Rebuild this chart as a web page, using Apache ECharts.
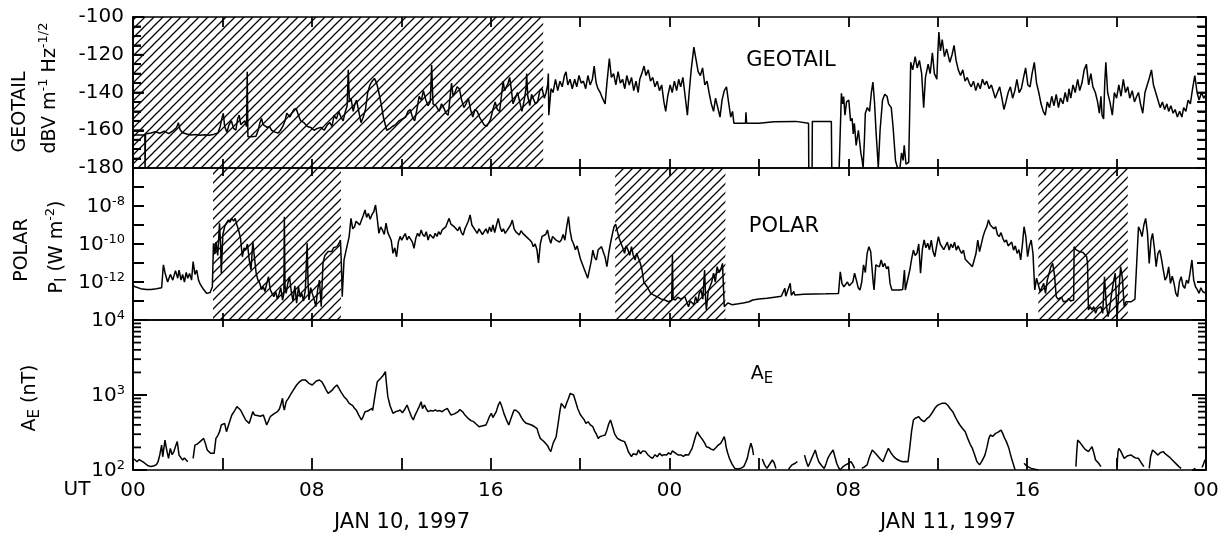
<!DOCTYPE html>
<html><head><meta charset="utf-8">
<script src="https://cdn.jsdelivr.net/npm/echarts@6/dist/echarts.min.js"></script>
<style>html,body{margin:0;padding:0;background:#fff}#c{width:1222px;height:536px}</style>
</head><body><div id="c"></div>
<script>
const FONT = 'DejaVu Sans';

// ---- data (hours from 00 UT Jan 10, 1997) ----
const geotailDb = [
[0,-162.5],[0.53,-162.5],[0.54,-180],[0.56,-162],[0.8,-161.5],[1.0,-160.8],[1.2,-161.6],[1.4,-160.5],[1.6,-161.8],[1.8,-160.2],[1.95,-158.5],[2.03,-156],[2.1,-159.5],[2.2,-161.2],[2.4,-162],[2.6,-162.5],[2.8,-162.3],[3.0,-162.6],[3.2,-162.4],[3.4,-162.6],[3.6,-162.2],[3.8,-161.5],[3.9,-158],[3.97,-154],[4.04,-151],[4.1,-158],[4.2,-161],[4.3,-157],[4.4,-155],[4.5,-159],[4.6,-160],[4.68,-154],[4.75,-152],[4.82,-157],[4.9,-158],[5.0,-155],[5.08,-158],[5.11,-129],[5.14,-163.4],[5.3,-163.4],[5.5,-163.2],[5.6,-160],[5.68,-156],[5.75,-153.7],[5.82,-157],[5.9,-156],[6.0,-158.5],[6.1,-158],[6.2,-160],[6.35,-161],[6.5,-161.5],[6.6,-160],[6.7,-158],[6.8,-155],[6.88,-151],[6.95,-150],[7.02,-153],[7.1,-151],[7.2,-149],[7.3,-148.5],[7.4,-152],[7.5,-155],[7.65,-156],[7.8,-158],[7.95,-158.5],[8.1,-160],[8.25,-159],[8.4,-158.5],[8.55,-160],[8.7,-157],[8.81,-156],[8.9,-158],[9.0,-152],[9.1,-154],[9.2,-150],[9.3,-153],[9.4,-155],[9.5,-150],[9.58,-147],[9.63,-128],[9.68,-145],[9.75,-143],[9.85,-150],[9.93,-146],[10.0,-144],[10.1,-150],[10.2,-156],[10.3,-153],[10.4,-149],[10.5,-140],[10.6,-136],[10.7,-134],[10.8,-132.5],[10.9,-135],[11.0,-140],[11.1,-146],[11.2,-153],[11.35,-160],[11.5,-159],[11.6,-158],[11.75,-157],[11.9,-155],[12.05,-154],[12.2,-153],[12.3,-150],[12.4,-149],[12.5,-153],[12.6,-155],[12.7,-149],[12.8,-142],[12.9,-144],[12.99,-139],[13.1,-144],[13.2,-147],[13.3,-145],[13.36,-125.4],[13.42,-146],[13.55,-147],[13.7,-150],[13.8,-146],[13.9,-148],[14.0,-151],[14.1,-152],[14.18,-143],[14.25,-135],[14.32,-142],[14.4,-140],[14.5,-137],[14.6,-138],[14.7,-144],[14.8,-148],[14.9,-146],[15.0,-143],[15.1,-149],[15.2,-153],[15.3,-149],[15.4,-150],[15.5,-153],[15.6,-155],[15.7,-157],[15.82,-158],[15.92,-156],[16.0,-154],[16.1,-149],[16.2,-145],[16.3,-149],[16.4,-150],[16.48,-142],[16.56,-134],[16.62,-139],[16.7,-140],[16.78,-135],[16.85,-132],[16.92,-138],[17.0,-146],[17.1,-143],[17.2,-140],[17.3,-145],[17.4,-150],[17.5,-144],[17.58,-138],[17.61,-130],[17.66,-142],[17.75,-147],[17.83,-141],[17.9,-140],[18.0,-146],[18.1,-145],[18.2,-139],[18.3,-138],[18.4,-143],[18.48,-140],[18.55,-136],[18.58,-130],
[18.6,-152],[18.7,-138],[18.79,-140],[18.9,-133],[19.0,-139],[19.1,-134],[19.2,-137],[19.3,-131],[19.37,-129],[19.45,-136],[19.55,-133],[19.65,-138],[19.76,-133],[19.85,-137],[19.95,-131],[20.05,-135],[20.15,-134],[20.25,-138],[20.35,-131],[20.45,-136],[20.55,-133],[20.63,-126],[20.72,-135],[20.8,-138],[20.9,-140],[21.0,-143],[21.12,-146],[21.2,-135],[21.31,-122],[21.4,-132],[21.5,-130],[21.6,-136],[21.7,-129],[21.8,-135],[21.9,-133],[22.0,-138],[22.09,-131],[22.2,-136],[22.3,-132],[22.4,-139],[22.5,-134],[22.6,-140],[22.67,-133],[22.76,-130],[22.86,-126],[22.95,-131],[23.05,-128],[23.15,-134],[23.25,-132],[23.35,-137],[23.45,-134],[23.55,-139],[23.65,-136],[23.75,-145],[23.83,-150],[23.92,-142],[24.03,-136],[24.12,-140],[24.22,-134],[24.32,-139],[24.41,-133],[24.5,-137],[24.6,-132],[24.7,-142],[24.8,-152],[24.88,-140],[24.97,-128],[25.09,-116],[25.18,-122],[25.28,-129],[25.38,-131],[25.48,-127],[25.58,-136],[25.68,-134],[25.77,-140],[25.87,-146],[25.97,-150],[26.06,-143],[26.16,-148],[26.26,-153],[26.35,-144],[26.45,-139],[26.55,-137],[26.64,-145],[26.74,-153],[26.82,-150],[26.88,-156.3],[27.0,-156.3],[27.4,-156.3],[27.42,-150.5],[27.45,-156.3],[28.0,-156.3],[28.68,-155.5],[28.75,-156.3],[29.65,-155.3],[29.7,-156.3],[30.22,-156.3],[30.23,-180],[30.38,-180],[30.39,-155.4],[31.24,-155.4],[31.26,-180],[31.59,-180],
[31.69,-140.4],[31.75,-146],[31.79,-142.2],[31.85,-152],[31.92,-145],[32.02,-144],[32.1,-155],[32.17,-153.7],[32.22,-162],[32.27,-156.3],[32.35,-168],[32.45,-160],[32.56,-172],[32.62,-176],[32.66,-180],[32.72,-165],[32.76,-151],[32.85,-148],[32.95,-150],[33.03,-140],[33.1,-134.5],[33.17,-145],[33.24,-161],[33.3,-172],[33.34,-180],[33.42,-160],[33.53,-144],[33.63,-141],[33.73,-142],[33.8,-146],[33.92,-148],[34.0,-158],[34.11,-176],[34.2,-180],[34.31,-180],[34.38,-172],[34.45,-176],[34.5,-168],[34.58,-178],[34.7,-177],[34.79,-124],[34.88,-128],[34.99,-121],[35.08,-127],[35.18,-123],[35.28,-130],[35.37,-148],[35.45,-132],[35.57,-125],[35.66,-130],[35.76,-119],[35.85,-130],[35.96,-133],[36.0,-120],[36.05,-108],[36.12,-118],[36.2,-112],[36.3,-121],[36.4,-117],[36.54,-124],[36.64,-120],[36.73,-115],[36.82,-123],[36.92,-128],[37.02,-131],[37.12,-128],[37.22,-134],[37.32,-132],[37.41,-135],[37.5,-137],[37.6,-134],[37.7,-139],[37.8,-135],[37.9,-138],[38.0,-133],[38.1,-136],[38.19,-134],[38.3,-138],[38.4,-136],[38.5,-140],[38.57,-143],[38.67,-140],[38.77,-137],[38.87,-143],[38.96,-149],[39.05,-145],[39.15,-140],[39.25,-137],[39.35,-143],[39.45,-139],[39.54,-133],[39.64,-140],[39.74,-138],[39.84,-132],[39.93,-127],[40.03,-136],[40.13,-137],[40.22,-130],[40.32,-124],[40.42,-135],[40.52,-140],[40.62,-146],[40.72,-150],[40.81,-152],[40.9,-145],[41.0,-148],[41.1,-142],[41.2,-147],[41.3,-141],[41.4,-148],[41.49,-143],[41.6,-146],[41.7,-140],[41.8,-145],[41.87,-138],[41.95,-143],[42.05,-136],[42.15,-140],[42.26,-133],[42.35,-139],[42.45,-135],[42.55,-128],[42.65,-125],[42.75,-136],[42.85,-130],[42.94,-137],[43.05,-140],[43.15,-145],[43.23,-151],[43.3,-142],[43.35,-152],[43.42,-154],[43.47,-135],[43.52,-124],[43.6,-140],[43.7,-145],[43.81,-152],[43.9,-140],[44.0,-143],[44.1,-136],[44.2,-142],[44.3,-133],[44.4,-140],[44.5,-137],[44.59,-143],[44.7,-139],[44.8,-145],[44.9,-142],[44.98,-140],[45.07,-146],[45.17,-151],[45.27,-140],[45.37,-136],[45.45,-133],[45.56,-128],[45.65,-136],[45.75,-140],[45.85,-144],[45.95,-148],[46.05,-145],[46.15,-149],[46.25,-146],[46.33,-150],[46.43,-147],[46.53,-151],[46.62,-149],[46.72,-153],[46.82,-150],[46.92,-153],[47.0,-148],[47.1,-150],[47.2,-144],[47.3,-146],[47.4,-138],[47.5,-131],[47.6,-140],[47.69,-144],[47.8,-140],[47.9,-143],[48.0,-141]
];

// POLAR Poynting flux, stored as log10(P_I / W m^-2)
const polarLogPI = [
[0,-12.2],[0.1,-12.25],[0.34,-12.35],[0.6,-12.4],[0.81,-12.4],[1.05,-12.35],[1.28,-12.3],[1.36,-11.1],[1.43,-11.5],[1.55,-12.0],[1.67,-11.6],[1.78,-11.9],[1.9,-11.4],[2.0,-11.8],[2.06,-11.37],[2.15,-11.9],[2.22,-11.6],[2.3,-12.0],[2.38,-11.5],[2.45,-11.8],[2.53,-11.55],[2.62,-11.9],[2.69,-10.93],[2.77,-11.6],[2.85,-11.37],[2.93,-11.9],[3.0,-12.1],[3.16,-12.4],[3.3,-12.6],[3.45,-12.55],[3.55,-12.25],[3.6,-9.96],[3.67,-10.5],[3.71,-9.9],[3.79,-10.6],[3.87,-8.91],[3.92,-10.1],[3.95,-11.54],[4.02,-9.5],[4.1,-9.09],[4.18,-8.9],[4.26,-8.74],[4.34,-8.85],[4.42,-8.65],[4.5,-8.8],[4.57,-8.65],[4.65,-9.0],[4.73,-9.3],[4.81,-9.7],[4.89,-10.67],[4.97,-10.2],[5.04,-10.32],[5.12,-10.0],[5.2,-10.84],[5.28,-11.37],[5.36,-9.88],[5.44,-10.8],[5.51,-11.54],[5.59,-11.9],[5.67,-12.07],[5.75,-12.4],[5.83,-12.25],[5.9,-12.5],[5.98,-12.6],[6.06,-11.72],[6.14,-12.4],[6.22,-12.6],[6.3,-12.77],[6.38,-12.5],[6.46,-12.9],[6.54,-12.6],[6.61,-12.3],[6.69,-12.95],[6.75,-12.6],[6.77,-8.56],[6.8,-12.2],[6.85,-12.6],[6.92,-12.1],[7.0,-11.72],[7.08,-12.5],[7.16,-13.0],[7.24,-12.2],[7.32,-13.12],[7.4,-12.25],[7.48,-12.8],[7.55,-12.6],[7.63,-13.0],[7.71,-12.4],[7.79,-9.96],[7.83,-12.0],[7.87,-12.95],[7.95,-12.3],[8.02,-12.6],[8.1,-12.9],[8.18,-13.3],[8.26,-12.4],[8.34,-11.9],[8.42,-13.3],[8.5,-11.0],[8.58,-10.6],[8.65,-10.5],[8.73,-10.4],[8.81,-10.3],[8.89,-10.4],[8.97,-10.2],[9.05,-10.3],[9.12,-10.14],[9.2,-10.0],[9.28,-9.79],[9.32,-11.0],[9.36,-12.77],[9.44,-10.84],[9.52,-10.4],[9.59,-10.49],[9.67,-9.61],[9.75,-8.65],[9.83,-9.2],[9.91,-9.09],[9.98,-8.8],[10.06,-8.74],[10.14,-9.0],[10.22,-8.9],[10.3,-8.5],[10.38,-8.21],[10.45,-8.6],[10.53,-8.39],[10.61,-8.7],[10.69,-8.45],[10.77,-8.3],[10.85,-7.95],[10.92,-8.6],[11.0,-9.44],[11.08,-9.1],[11.16,-9.26],[11.24,-9.5],[11.32,-8.9],[11.4,-9.4],[11.48,-9.35],[11.55,-9.8],[11.63,-10.49],[11.71,-10.2],[11.79,-10.67],[11.87,-9.9],[11.95,-9.6],[12.02,-9.8],[12.1,-9.61],[12.18,-9.45],[12.26,-9.79],[12.34,-9.6],[12.42,-9.61],[12.5,-9.9],[12.57,-10.23],[12.65,-9.7],[12.73,-9.44],[12.81,-9.6],[12.89,-9.26],[12.96,-9.5],[13.04,-9.61],[13.12,-9.35],[13.2,-9.79],[13.28,-9.5],[13.36,-9.53],[13.44,-9.7],[13.52,-9.44],[13.6,-9.6],[13.67,-9.35],[13.75,-9.5],[13.83,-9.26],[13.91,-9.35],[13.99,-9.1],[14.06,-9.0],[14.14,-8.65],[14.22,-8.95],[14.3,-8.91],[14.38,-9.1],[14.46,-9.0],[14.53,-9.3],[14.61,-9.09],[14.69,-9.4],[14.77,-9.53],[14.85,-9.2],[14.93,-9.1],[15.0,-8.8],[15.08,-8.47],[15.16,-9.0],[15.24,-9.09],[15.32,-9.3],[15.4,-9.44],[15.48,-9.2],[15.55,-9.26],[15.63,-9.5],[15.71,-9.35],[15.79,-9.2],[15.87,-9.44],[15.95,-9.1],[16.03,-9.35],[16.1,-9.0],[16.18,-9.4],[16.26,-9.0],[16.34,-8.65],[16.42,-9.1],[16.5,-9.35],[16.57,-9.2],[16.65,-9.44],[16.73,-9.3],[16.81,-9.35],[16.89,-9.0],[16.97,-8.74],[17.05,-9.2],[17.12,-9.35],[17.2,-9.3],[17.28,-9.53],[17.36,-9.3],[17.44,-9.44],[17.52,-9.4],[17.59,-9.61],[17.67,-9.7],[17.75,-9.79],[17.83,-9.9],[17.91,-10.14],[17.99,-10.0],[18.07,-10.3],[18.14,-11.0],[18.22,-10.0],[18.3,-9.6],[18.38,-9.61],[18.46,-9.5],[18.54,-9.26],[18.62,-9.7],[18.69,-9.96],[18.77,-9.6],[18.85,-9.61],[18.93,-9.8],[19.01,-9.79],[19.08,-9.9],[19.16,-9.79],[19.24,-9.5],[19.32,-9.8],[19.4,-9.1],[19.48,-8.56],[19.55,-9.3],[19.63,-9.79],[19.71,-10.0],[19.79,-10.3],[19.87,-10.1],[19.95,-10.49],[20.02,-10.8],[20.1,-10.84],[20.18,-11.3],[20.26,-11.37],[20.34,-11.8],[20.42,-11.9],[20.5,-10.9],[20.57,-10.32],[20.65,-10.7],[20.73,-10.84],[20.81,-10.3],[20.89,-10.4],[20.96,-10.14],[21.04,-10.2],[21.12,-10.7],[21.2,-11.19],[21.28,-10.5],[21.36,-9.96],[21.44,-9.5],[21.52,-9.09],[21.59,-8.95],[21.67,-9.35],[21.75,-9.7],[21.83,-9.96],[21.91,-10.2],[21.99,-10.49],[22.06,-10.1],[22.14,-10.3],[22.22,-10.6],[22.3,-10.14],[22.38,-10.6],[22.46,-10.84],[22.53,-10.49],[22.61,-10.5],[22.69,-11.0],[22.77,-11.37],[22.85,-12.0],[22.93,-12.07],[23.0,-12.25],[23.08,-12.25],[23.16,-12.6],[23.24,-12.6],[23.32,-12.7],[23.4,-12.77],[23.48,-12.8],[23.56,-12.86],[23.63,-12.9],[23.71,-12.95],[23.79,-12.95],[23.87,-13.04],[23.95,-13.04],[24.03,-13.0],[24.1,-12.95],[24.13,-10.58],[24.16,-12.9],[24.26,-12.95],[24.37,-12.8],[24.5,-12.9],[24.69,-12.77],[24.85,-13.3],[24.93,-13.0],[25.01,-12.9],[25.09,-13.2],[25.17,-12.77],[25.25,-13.1],[25.33,-12.6],[25.41,-12.42],[25.49,-12.9],[25.57,-11.37],[25.62,-13.0],[25.65,-13.47],[25.73,-12.5],[25.81,-12.25],[25.89,-12.0],[25.97,-11.54],[26.05,-12.0],[26.13,-11.19],[26.21,-11.5],[26.29,-11.37],[26.37,-11.02],[26.45,-13.3],[26.53,-13.3],[26.61,-13.1],[26.8,-13.2],[27.08,-13.15],[27.3,-13.1],[27.56,-13.04],[27.72,-12.95],[28.0,-12.9],[28.36,-12.86],[28.7,-12.8],[29.0,-12.75],[29.16,-12.33],[29.2,-12.75],[29.4,-12.07],[29.45,-12.7],[29.56,-12.5],[29.6,-12.68],[30.0,-12.65],[30.5,-12.63],[31.0,-12.62],[31.56,-12.6],[31.64,-11.46],[31.72,-12.1],[31.8,-12.25],[31.88,-12.3],[31.96,-12.0],[32.04,-12.2],[32.12,-12.3],[32.2,-12.0],[32.28,-11.54],[32.36,-11.9],[32.44,-12.3],[32.52,-12.42],[32.6,-12.0],[32.68,-11.1],[32.76,-11.5],[32.84,-10.5],[32.92,-10.14],[33.0,-10.4],[33.07,-10.49],[33.11,-12.0],[33.15,-12.42],[33.23,-11.1],[33.31,-11.0],[33.39,-11.2],[33.47,-10.84],[33.55,-11.2],[33.63,-11.02],[33.71,-11.3],[33.79,-11.19],[33.87,-12.1],[33.95,-12.42],[34.1,-12.42],[34.19,-12.42],[34.3,-12.42],[34.43,-12.4],[34.51,-11.37],[34.55,-12.42],[34.59,-12.42],[34.75,-11.37],[34.83,-10.8],[34.91,-10.32],[34.99,-10.6],[35.07,-10.49],[35.15,-10.0],[35.23,-11.54],[35.31,-10.3],[35.39,-9.79],[35.47,-10.2],[35.55,-9.96],[35.63,-10.3],[35.71,-9.8],[35.79,-10.4],[35.87,-10.67],[35.95,-10.1],[36.03,-9.61],[36.11,-10.0],[36.19,-9.96],[36.27,-10.3],[36.35,-10.1],[36.43,-9.9],[36.51,-10.32],[36.59,-10.0],[36.67,-10.2],[36.75,-9.9],[36.83,-10.32],[36.91,-10.1],[36.99,-10.32],[37.07,-10.5],[37.15,-10.32],[37.23,-10.8],[37.31,-10.84],[37.39,-11.0],[37.47,-11.02],[37.55,-11.19],[37.63,-10.84],[37.71,-10.5],[37.79,-9.79],[37.87,-10.4],[37.95,-10.49],[38.03,-9.6],[38.11,-9.3],[38.19,-9.1],[38.27,-8.74],[38.35,-9.0],[38.43,-8.91],[38.51,-9.2],[38.59,-9.09],[38.67,-9.5],[38.75,-9.61],[38.83,-9.4],[38.91,-9.7],[38.99,-9.9],[39.07,-9.79],[39.15,-10.1],[39.23,-10.2],[39.31,-9.9],[39.39,-10.32],[39.47,-10.1],[39.55,-10.49],[39.63,-10.3],[39.71,-10.84],[39.79,-10.0],[39.86,-9.09],[39.94,-9.6],[40.02,-10.67],[40.1,-10.1],[40.18,-9.79],[40.26,-10.5],[40.34,-12.42],[40.42,-11.8],[40.5,-11.72],[40.58,-12.5],[40.66,-12.4],[40.74,-12.07],[40.82,-12.6],[40.9,-11.9],[40.98,-11.9],[41.06,-11.2],[41.14,-11.02],[41.22,-11.6],[41.3,-12.77],[41.38,-12.9],[41.46,-12.95],[41.54,-12.8],[41.62,-13.04],[41.7,-12.95],[41.78,-13.0],[41.86,-12.86],[41.94,-13.0],[42.02,-12.9],[42.08,-12.95],[42.1,-10.14],[42.18,-10.3],[42.26,-10.32],[42.34,-10.4],[42.42,-10.49],[42.5,-10.45],[42.58,-10.49],[42.66,-10.67],[42.7,-11.0],[42.74,-13.47],[42.82,-13.3],[42.9,-13.47],[42.98,-13.3],[43.06,-13.65],[43.14,-13.4],[43.22,-13.5],[43.3,-13.3],[43.38,-13.65],[43.46,-11.72],[43.54,-13.2],[43.62,-13.82],[43.7,-13.3],[43.78,-12.6],[43.86,-12.0],[43.94,-11.54],[44.02,-13.82],[44.1,-12.5],[44.18,-11.19],[44.26,-11.8],[44.34,-13.3],[44.42,-13.04],[44.5,-13.04],[44.66,-13.04],[44.82,-12.9],[44.9,-11.0],[44.98,-9.09],[45.06,-9.3],[45.14,-9.61],[45.22,-9.0],[45.3,-8.65],[45.38,-9.4],[45.46,-11.02],[45.54,-9.8],[45.61,-9.44],[45.69,-10.2],[45.77,-11.19],[45.85,-10.5],[45.93,-10.32],[46.01,-10.8],[46.09,-11.37],[46.17,-11.9],[46.25,-11.72],[46.33,-11.2],[46.41,-12.07],[46.49,-11.7],[46.57,-12.07],[46.65,-12.6],[46.73,-12.77],[46.81,-12.0],[46.89,-11.72],[46.97,-12.2],[47.05,-12.33],[47.13,-11.9],[47.21,-12.07],[47.29,-11.5],[47.37,-10.84],[47.45,-11.9],[47.53,-12.25],[47.61,-12.4],[47.69,-12.6],[47.77,-12.3],[47.85,-12.5],[47.93,-12.6],[48.0,-12.6]
];

// AE index in nT (null = gap / below plot range)
const aeNT = [
[0.05,140],[0.18,129],[0.28,138],[0.36,143],[0.5,125],[0.65,115],[0.8,111],[0.95,114],[1.05,118],[1.12,129],[1.2,160],[1.28,215],[1.33,150],[1.36,176],[1.43,251],[1.5,190],[1.59,143],[1.67,194],[1.75,160],[1.83,176],[1.9,205],[1.98,239],[2.06,158],[2.14,150],[2.22,136],[2.3,145],[2.38,140],[2.45,129],[2.55,null],[2.69,143],[2.77,215],[2.88,222],[3.0,239],[3.08,250],[3.16,264],[3.24,225],[3.32,185],[3.4,175],[3.47,167],[3.55,160],[3.63,167],[3.71,264],[3.8,290],[3.88,330],[3.95,398],[4.02,380],[4.1,419],[4.18,324],[4.3,420],[4.42,541],[4.55,620],[4.65,699],[4.73,680],[4.81,631],[4.9,560],[5.04,464],[5.12,440],[5.2,419],[5.28,500],[5.36,599],[5.44,540],[5.51,514],[5.6,530],[5.7,520],[5.83,541],[5.9,470],[5.98,398],[6.06,450],[6.14,514],[6.3,560],[6.46,599],[6.55,650],[6.62,760],[6.69,903],[6.73,700],[6.77,631],[6.85,815],[6.95,900],[7.08,1053],[7.2,1200],[7.32,1359],[7.45,1500],[7.55,1580],[7.63,1668],[7.72,1580],[7.8,1500],[7.87,1431],[7.95,1420],[8.02,1359],[8.1,1440],[8.2,1540],[8.34,1585],[8.45,1500],[8.57,1292],[8.65,1150],[8.73,1050],[8.81,1000],[8.9,1150],[9.0,1260],[9.12,1359],[9.2,1250],[9.3,1100],[9.44,950],[9.55,880],[9.67,774],[9.75,790],[9.83,720],[9.91,664],[10.0,620],[10.1,540],[10.22,464],[10.3,520],[10.38,599],[10.5,610],[10.6,640],[10.69,664],[10.72,620],[10.77,774],[10.85,1100],[10.93,1506],[11.0,1590],[11.08,1668],[11.18,1800],[11.29,2048],[11.33,1500],[11.4,950],[11.5,720],[11.63,570],[11.75,600],[11.85,610],[11.95,631],[12.05,580],[12.15,640],[12.26,736],[12.35,620],[12.45,520],[12.54,464],[12.62,540],[12.73,631],[12.8,700],[12.89,815],[12.95,660],[13.04,736],[13.12,650],[13.2,599],[13.3,620],[13.42,610],[13.52,631],[13.62,610],[13.72,620],[13.83,599],[13.92,630],[14.0,660],[14.06,664],[14.14,600],[14.22,541],[14.3,545],[14.38,560],[14.46,541],[14.55,600],[14.62,640],[14.69,664],[14.76,590],[14.85,540],[14.93,514],[15.02,480],[15.12,455],[15.24,441],[15.35,410],[15.48,378],[15.6,385],[15.7,392],[15.79,398],[15.88,460],[15.95,520],[16.03,570],[16.1,500],[16.18,488],[16.25,600],[16.33,720],[16.42,815],[16.5,700],[16.6,560],[16.7,470],[16.81,398],[16.9,480],[16.98,560],[17.05,631],[17.15,620],[17.28,570],[17.38,500],[17.48,450],[17.59,419],[17.7,410],[17.83,398],[17.95,380],[18.07,359],[18.15,300],[18.22,264],[18.3,280],[18.38,240],[18.46,239],[18.55,210],[18.62,190],[18.69,176],[18.8,230],[18.93,278],[19.02,420],[19.1,620],[19.16,774],[19.24,720],[19.32,664],[19.4,780],[19.48,900],[19.56,1053],[19.63,1040],[19.71,1000],[19.8,820],[19.9,650],[20.02,541],[20.1,520],[20.18,470],[20.26,419],[20.36,440],[20.46,400],[20.57,378],[20.65,330],[20.73,300],[20.81,264],[20.9,280],[21.0,285],[21.12,293],[21.2,340],[21.28,410],[21.36,464],[21.45,380],[21.55,300],[21.67,264],[21.76,255],[21.87,245],[21.99,239],[22.07,210],[22.16,175],[22.3,151],[22.38,165],[22.46,170],[22.53,160],[22.61,185],[22.7,165],[22.8,180],[22.93,176],[23.03,160],[23.13,150],[23.24,143],[23.35,160],[23.45,150],[23.56,167],[23.66,155],[23.76,160],[23.87,158],[23.96,170],[24.05,162],[24.13,180],[24.21,185],[24.3,165],[24.4,158],[24.53,158],[24.62,152],[24.72,160],[24.85,158],[24.93,175],[25.01,194],[25.1,240],[25.18,290],[25.25,324],[25.33,290],[25.41,270],[25.49,251],[25.57,230],[25.65,204],[25.75,200],[25.86,190],[25.97,185],[26.08,200],[26.18,215],[26.29,227],[26.37,250],[26.45,278],[26.5,240],[26.53,204],[26.6,170],[26.68,143],[26.8,120],[26.92,105],[27.0,104],[27.08,103],[27.2,106],[27.32,111],[27.4,125],[27.48,143],[27.56,185],[27.64,227],[27.7,200],[27.76,158],[27.8,null],[28.15,140],[28.25,118],[28.36,105],[28.5,122],[28.6,136],[28.68,125],[28.76,105],[28.8,null],[29.32,101],[29.4,110],[29.48,117],[29.6,122],[29.72,129],[29.75,null],[30.04,158],[30.12,130],[30.2,111],[30.28,125],[30.36,143],[30.45,165],[30.52,185],[30.6,150],[30.68,129],[30.8,115],[30.92,105],[31.0,120],[31.08,143],[31.2,165],[31.32,185],[31.4,150],[31.48,123],[31.56,108],[31.64,100],[31.75,110],[31.88,117],[32.0,122],[32.12,129],[32.2,118],[32.28,105],[32.3,null],[32.6,105],[32.72,110],[32.84,117],[32.95,150],[33.07,185],[33.15,175],[33.23,165],[33.31,158],[33.43,140],[33.55,129],[33.67,160],[33.79,194],[33.9,170],[34.03,151],[34.15,140],[34.3,133],[34.43,129],[34.55,130],[34.67,129],[34.75,200],[34.83,330],[34.91,464],[35.0,490],[35.07,480],[35.15,514],[35.25,470],[35.39,441],[35.5,480],[35.63,514],[35.75,580],[35.87,664],[35.97,720],[36.07,750],[36.19,774],[36.27,790],[36.35,774],[36.45,730],[36.55,660],[36.67,599],[36.8,500],[36.9,440],[36.99,398],[37.1,360],[37.23,324],[37.35,260],[37.45,220],[37.55,194],[37.65,160],[37.75,130],[37.87,117],[37.97,130],[38.05,145],[38.11,158],[38.2,200],[38.28,260],[38.35,293],[38.45,280],[38.52,295],[38.59,308],[38.7,320],[38.78,330],[38.83,341],[38.9,310],[38.98,270],[39.07,239],[39.17,200],[39.3,143],[39.4,115],[39.46,100],[39.5,null],[39.86,123],[39.95,115],[40.05,110],[40.18,105],[40.3,103],[40.5,100],[40.55,null],[42.18,111],[42.22,180],[42.26,251],[42.35,235],[42.42,220],[42.5,215],[42.58,190],[42.66,200],[42.74,176],[42.82,190],[42.9,204],[42.98,170],[43.06,136],[43.18,125],[43.3,111],[43.35,null],[44.02,111],[44.06,170],[44.1,194],[44.18,180],[44.26,160],[44.34,143],[44.42,150],[44.5,155],[44.58,160],[44.66,158],[44.75,150],[44.85,145],[44.98,143],[45.1,125],[45.22,111],[45.25,null],[45.46,105],[45.52,150],[45.61,185],[45.7,175],[45.78,165],[45.85,158],[45.95,170],[46.02,180],[46.09,176],[46.17,165],[46.25,158],[46.35,150],[46.45,140],[46.57,129],[46.7,118],[46.8,110],[46.89,105],[46.95,null],[47.45,105],[47.53,103],[47.58,null],[47.82,108],[47.88,118],[47.95,136],[48.0,128]
];

// hatched (shaded) intervals, hours
const geotailHatch = [[0, 18.35]];
const polarHatch = [[3.58, 9.3], [21.57, 26.5], [40.5, 44.5]];

// axis ticks / labels
const hourLabels = [0, 8, 16, 24, 32, 40, 48];
const geotailTicks = [-180, -160, -140, -120, -100];
const geotailMinorStep = 5;
const polarDecades = [-14, -13, -12, -11, -10, -9, -8, -7, -6];
const polarLabelExp = [-12, -10, -8];
const aeDecades = [2, 3, 4];
const aeMinorMult = [2, 3, 4, 5, 6, 7, 8, 9];

// ---- chart ----
const chart = echarts.init(document.getElementById('c'), null, {renderer: 'canvas'});

function hatch() {
  const s = 9, c = document.createElement('canvas');
  c.width = s; c.height = s;
  const g = c.getContext('2d');
  g.strokeStyle = '#000'; g.lineWidth = 1.25;
  g.beginPath();
  g.moveTo(-1, s + 1); g.lineTo(s + 1, -1);
  g.moveTo(-2, 2); g.lineTo(2, -2);
  g.moveTo(s - 2, s + 2); g.lineTo(s + 2, s - 2);
  g.stroke();
  return {image: c, repeat: 'repeat'};
}
const pat = hatch();

const tickStyle = {color: '#000', width: 1.8};
const richLab = {
  b: {fontFamily: FONT, fontSize: 20, color: '#000', lineHeight: 22, verticalAlign: 'bottom'},
  s: {fontFamily: FONT, fontSize: 13, color: '#000', lineHeight: 13, verticalAlign: 'top'}
};

const grids = [
  {left: 133, right: 16, top: 17, height: 151},
  {left: 133, right: 16, top: 168, height: 152},
  {left: 133, right: 16, top: 320, height: 150}
].map(g => Object.assign(g, {show: true, borderColor: '#000', borderWidth: 1.7, backgroundColor: 'rgba(0,0,0,0)'}));

function xAx(i, pos, len, labels) {
  return {
    type: 'value', gridIndex: i, position: pos, min: 0, max: 48, interval: 4,
    axisLine: {show: false}, splitLine: {show: false},
    axisTick: {show: true, inside: true, length: len, lineStyle: tickStyle},
    axisLabel: labels ? {
      show: true, customValues: hourLabels, margin: 11, color: '#000',
      fontFamily: FONT, fontSize: 20,
      formatter: v => String(Math.round(v) % 24).padStart(2, '0')
    } : {show: false}
  };
}
const xAxes = [
  xAx(0, 'bottom', 9, false), xAx(0, 'top', 10, false),
  xAx(1, 'bottom', 7, false), xAx(1, 'top', 8, false),
  xAx(2, 'bottom', 12, true), xAx(2, 'top', 7, false)
];

// left (labelled) and right y axes, both drawing inside ticks
function yAx(grid, pos, min, max, interval, tickLen, label, minor) {
  const a = {type: 'value', gridIndex: grid, position: pos, min: min, max: max, interval: interval,
    axisLine: {show: true, onZero: false, lineStyle: {color: '#000', width: 1.7}},
    splitLine: {show: false},
    axisTick: {show: true, inside: true, length: tickLen, lineStyle: tickStyle},
    axisLabel: label ? Object.assign({show: true, color: '#000', fontFamily: FONT, fontSize: 20}, label) : {show: false}};
  if (minor) a.minorTick = {show: true, splitNumber: minor, length: 8, lineStyle: tickStyle};
  return a;
}
const expFmt = v => '{b|10}{s|' + Math.round(v) + '}';
const yAxes = [
  yAx(0, 'left', -180, -100, 20, 11, {customValues: geotailTicks, margin: 9}, 4),
  yAx(1, 'left', -14, -6, 1, 11, {customValues: polarLabelExp, margin: 8, rich: richLab, formatter: expFmt}),
  yAx(2, 'left', 2, 4, 1, 14, {customValues: aeDecades, margin: 8, rich: richLab, formatter: expFmt}),
  yAx(0, 'right', -180, -100, 20, 9, null, 4),
  yAx(1, 'right', -14, -6, 1, 9, null),
  yAx(2, 'right', 2, 4, 1, 14, null)
];

// extra y tick marks per panel (log minor ticks etc.): [value, lengthLeft, lengthRight]
const geoTickMarks = [];
for (let v = -180; v <= -100; v += geotailMinorStep) geoTickMarks.push([v, v % 20 === 0 ? 11 : 8, 9]);
const polarTickMarks = polarDecades.map(v => [v, 11, 9]);
const aeTickMarks = aeDecades.map(v => [v, 14, 14])
  .concat([2, 3].flatMap(d => aeMinorMult.map(m => [d + Math.log10(m), 8, 8])));
const tickSets = [geoTickMarks, polarTickMarks, aeTickMarks];

const lineCommon = {type: 'line', symbol: 'none', showSymbol: false, connectNulls: false,
  lineStyle: {color: '#000', width: 1.5}, z: 3, animation: false};
const mkArea = list => ({silent: true, itemStyle: {color: pat, borderWidth: 0},
  data: list.map(([a, b]) => [{xAxis: a}, {xAxis: b}])});

const series = [
  Object.assign({}, lineCommon, {xAxisIndex: 0, yAxisIndex: 0, data: geotailDb, markArea: mkArea(geotailHatch)}),
  Object.assign({}, lineCommon, {xAxisIndex: 2, yAxisIndex: 1, data: polarLogPI, markArea: mkArea(polarHatch)}),
  Object.assign({}, lineCommon, {xAxisIndex: 4, yAxisIndex: 2,
    data: aeNT.map(([t, v]) => [t, v == null ? '-' : Math.log10(v)])})
];

const tStyle = {fill: '#000', fontFamily: FONT, fontSize: 20};
const supRich = {
  b: {fontFamily: FONT, fontSize: 19, fill: '#000', color: '#000', lineHeight: 26, verticalAlign: 'middle'},
  s: {fontFamily: FONT, fontSize: 13, fill: '#000', color: '#000', lineHeight: 13, verticalAlign: 'top'},
  u: {fontFamily: FONT, fontSize: 15, fill: '#000', color: '#000', lineHeight: 15, verticalAlign: 'bottom'}
};
function txt(x, y, text, rot, rich, size) {
  const st = Object.assign({}, tStyle, {text: text, align: 'center', verticalAlign: 'middle',
    textAlign: 'center', textVerticalAlign: 'middle'});
  if (size) st.fontSize = size;
  if (rich) st.rich = supRich;
  return {type: 'text', x: x, y: y, rotation: rot || 0, style: st, z: 10, silent: true};
}
const graphic = [
  txt(20, 112, 'GEOTAIL', Math.PI / 2, false, 19),
  txt(50, 88, '{b|dBV m}{s|-1}{b| Hz}{s|-1/2}', Math.PI / 2, true),
  txt(22, 250, 'POLAR', Math.PI / 2, false, 19),
  txt(57, 247, '{b|P}{u|I}{b| (W m}{s|-2}{b|)}', Math.PI / 2, true),
  txt(30, 398, '{b|A}{u|E}{b| (nT)}', Math.PI / 2, true),
  txt(791, 61, 'GEOTAIL', 0, false, 21),
  txt(784, 227, 'POLAR', 0, false, 21),
  txt(762, 374, '{b|A}{u|E}', 0, true),
  txt(77, 490, 'UT', 0),
  txt(402, 523, 'JAN 10, 1997', 0, false, 21),
  txt(948, 523, 'JAN 11, 1997', 0, false, 21)
];

chart.setOption({
  animation: false,
  backgroundColor: '#fff',
  grid: grids,
  xAxis: xAxes,
  yAxis: yAxes,
  series: series
});

// y tick marks drawn at positions from the library's own axis scales
const tickGraphics = [];
tickSets.forEach((marks, gi) => {
  marks.forEach(([v, ll, lr]) => {
    const pl = chart.convertToPixel({xAxisIndex: gi * 2, yAxisIndex: gi}, [0, v]);
    const pr = chart.convertToPixel({xAxisIndex: gi * 2, yAxisIndex: gi}, [48, v]);
    if (!pl || !pr) return;
    const st = {stroke: '#000', lineWidth: 1.8};
    tickGraphics.push({type: 'line', z: 100,
      shape: {x1: pl[0], y1: pl[1], x2: pl[0] + ll, y2: pl[1]}, style: st});
    tickGraphics.push({type: 'line', z: 100,
      shape: {x1: pr[0], y1: pr[1], x2: pr[0] - lr, y2: pr[1]}, style: st});
  });
});
chart.setOption({graphic: graphic.concat(tickGraphics)});
</script>
</body></html>
